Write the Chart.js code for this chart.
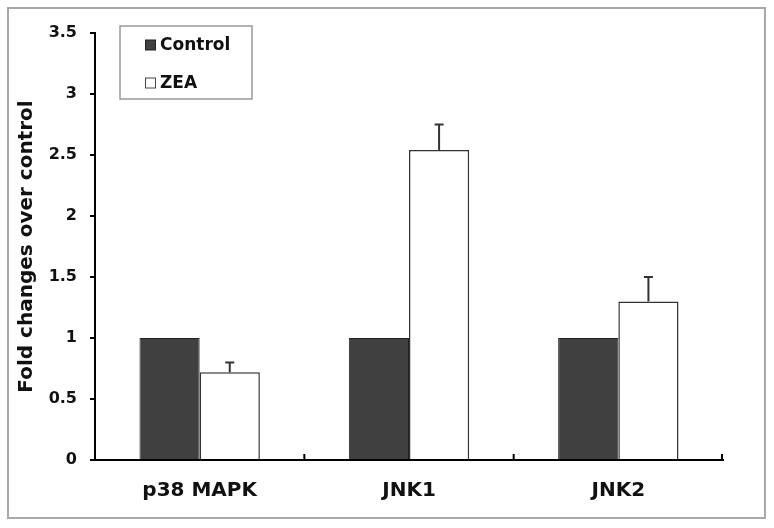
<!DOCTYPE html>
<html>
<head>
<meta charset="utf-8">
<script src="https://cdn.jsdelivr.net/npm/chart.js@4.4.1/dist/chart.umd.min.js"></script>
<style>
  html, body { margin: 0; padding: 0; background: #fff; }
  canvas { display: block; }
</style>
</head>
<body>
<canvas id="chart" width="774" height="528"></canvas>
<script>
const categories = ['p38 MAPK', 'JNK1', 'JNK2'];
const seriesNames = ['Control', 'ZEA'];
const controlValues = [1, 1, 1];
const zeaValues = [0.72, 2.54, 1.30];
const zeaErrors = [0.08, 0.21, 0.20];
const yMin = 0, yMax = 3.5, yStep = 0.5;

const FONT = '"DejaVu Sans", "Liberation Sans", Arial, sans-serif';
const CONTROL_FILL = '#404040';

// outer frame, inward x ticks, error bars and the boxed legend
const decorPlugin = {
  id: 'decor',
  afterDatasetsDraw(chart) {
    const ctx = chart.ctx;
    const x = chart.scales.x, y = chart.scales.y;

    // error bars (upward only) on ZEA
    const meta = chart.getDatasetMeta(1);
    ctx.save();
    ctx.strokeStyle = '#333';
    ctx.lineWidth = 2;
    meta.data.forEach((bar, i) => {
      const top = y.getPixelForValue(zeaValues[i]);
      const end = y.getPixelForValue(zeaValues[i] + zeaErrors[i]);
      ctx.beginPath();
      ctx.moveTo(bar.x, top);
      ctx.lineTo(bar.x, end);
      ctx.moveTo(bar.x - 4.5, end);
      ctx.lineTo(bar.x + 4.5, end);
      ctx.stroke();
    });

    // inward tick marks at category boundaries
    ctx.strokeStyle = '#000';
    ctx.lineWidth = 2;
    const base = y.getPixelForValue(0);
    const bounds = [];
    for (let i = 0; i < categories.length - 1; i++) {
      bounds.push((x.getPixelForValue(i) + x.getPixelForValue(i + 1)) / 2);
    }
    bounds.push(x.right - 1);
    bounds.forEach(px => {
      ctx.beginPath();
      ctx.moveTo(px, base);
      ctx.lineTo(px, base - 6);
      ctx.stroke();
    });
    ctx.restore();
  },
  afterDraw(chart) {
    const ctx = chart.ctx;
    ctx.save();
    // frame
    ctx.strokeStyle = '#a8a8a8';
    ctx.lineWidth = 2;
    ctx.strokeRect(8, 8, 757, 510);

    // legend box
    ctx.strokeStyle = '#999';
    ctx.lineWidth = 1.5;
    ctx.fillStyle = '#fff';
    ctx.fillRect(120, 26, 132, 73);
    ctx.strokeRect(120, 26, 132, 73);

    const rows = [45, 83];
    ctx.font = 'bold 17px ' + FONT;
    ctx.textBaseline = 'middle';
    seriesNames.forEach((name, i) => {
      const cy = rows[i];
      ctx.fillStyle = i === 0 ? CONTROL_FILL : '#fff';
      ctx.fillRect(145.5, cy - 5, 10, 10);
      ctx.strokeStyle = i === 0 ? '#222' : '#444';
      ctx.lineWidth = 1;
      ctx.strokeRect(145.5, cy - 5, 10, 10);
      ctx.fillStyle = '#111';
      ctx.fillText(name, 160, cy + 1);
    });
    ctx.restore();
  }
};

new Chart(document.getElementById('chart'), {
  type: 'bar',
  data: {
    labels: categories,
    datasets: [
      {
        label: seriesNames[0],
        data: controlValues,
        backgroundColor: CONTROL_FILL,
        borderColor: '#222',
        borderWidth: 1,
        barPercentage: 1,
        categoryPercentage: 0.575,
      },
      {
        label: seriesNames[1],
        data: zeaValues,
        backgroundColor: '#fff',
        borderColor: '#333',
        borderWidth: 1.5,
        barPercentage: 1,
        categoryPercentage: 0.575,
      },
    ],
  },
  options: {
    responsive: false,
    animation: false,
    layout: { padding: { left: 8, top: 33, right: 51, bottom: 0 } },
    plugins: {
      legend: { display: false },
      tooltip: { enabled: false },
    },
    scales: {
      x: {
        grid: { display: false },
        border: { display: true, color: '#000', width: 2 },
        ticks: { color: '#111', padding: 11, font: { family: FONT, size: 20, weight: 'bold' } },
        afterFit: (s) => { s.height = 68; },
      },
      y: {
        min: yMin,
        max: yMax,
        grid: { display: true, drawOnChartArea: false, drawTicks: true, tickLength: 5, color: '#000', lineWidth: 2 },
        border: { display: true, color: '#000', width: 2 },
        ticks: {
          stepSize: yStep,
          color: '#111',
          padding: 13,
          font: { family: FONT, size: 16, weight: 'bold' },
          callback: (v) => String(+v.toFixed(1)),
        },
        title: {
          display: true,
          text: 'Fold changes over control',
          color: '#111',
          padding: { top: 7, bottom: 0 },
          font: { family: FONT, size: 20, weight: 'bold' },
        },
        afterFit: (s) => { s.width = 87; },
      },
    },
  },
  plugins: [decorPlugin],
});
</script>
</body>
</html>
